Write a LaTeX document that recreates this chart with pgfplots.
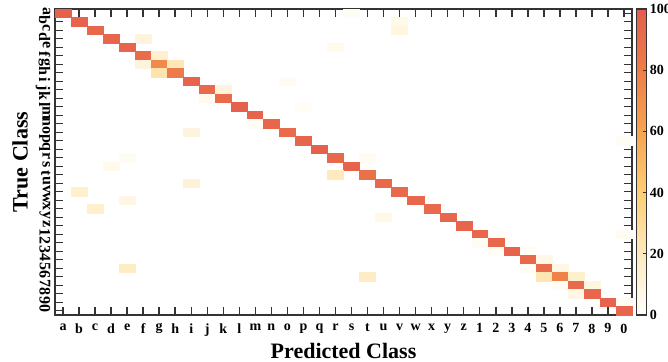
\documentclass[border=0pt]{standalone}
\usepackage{pgfplots}
\pgfplotsset{compat=1.18}
\usepackage{pgfplotstable}
\usepackage{fontspec}
\setmainfont{Liberation Serif}
\usetikzlibrary{calc}

\pgfplotstableread{
x y v
0 0 97
18 0 3
1 1 96
21 1 6
2 2 93
21 2 9
3 3 94
5 3 10
4 4 95
17 4 5
5 5 90
6 5 14
5 6 10
6 6 74
7 6 22
6 7 25
7 7 82
8 8 96
14 8 4
9 9 92
10 9 10
9 10 5
10 10 91
11 11 97
15 11 2
12 12 95
13 12 1
12 13 3
13 13 94
8 14 10
14 14 91
15 15 95
35 15 3
16 16 97
4 17 3
17 17 93
19 17 4
3 18 5
18 18 96
17 19 20
19 19 88
8 20 13
20 20 93
1 21 15
21 21 92
4 22 8
22 22 94
2 23 15
23 23 92
20 24 7
24 24 94
25 25 95
26 26 94
27 26 2
35 26 3
26 27 3
27 27 93
27 28 2
28 28 96
29 28 3
29 29 93
30 29 7
4 30 18
29 30 3
30 30 90
31 30 8
19 31 18
30 31 23
31 31 78
32 31 15
31 32 3
32 32 92
33 32 9
32 33 8
33 33 94
34 34 96
35 34 3
35 35 95
}\cmdata

\begin{document}
\begin{tikzpicture}
\begin{axis}[
  name=main,
  scale only axis,
  width=432.75pt, height=229.5pt,
  xmin=-0.5, xmax=35.5, ymin=-0.5, ymax=35.5,
  y dir=reverse,
  axis on top,
  xtick={0,...,35}, ytick={0,...,35},
  xticklabels={a,b,c,d,e,f,g,h,i,j,k,l,m,n,o,p,q,r,s,t,u,v,w,x,y,z,1,2,3,4,5,6,7,8,9,0},
  yticklabels={a,b,c,d,e,f,g,h,i,j,k,l,m,n,o,p,q,r,s,t,u,v,w,x,y,z,1,2,3,4,5,6,7,8,9,0},
  tick align=inside,
  major tick length=6pt,
  every tick/.style={black!80, line width=1.1pt},
  axis line style={black!80, line width=1.4pt},
  xticklabel style={font=\bfseries\fontsize{10.5}{12}\selectfont, yshift=-3pt},
  yticklabel style={font=\bfseries\fontsize{12}{13}\selectfont, rotate=-90, anchor=north, xshift=-1.5pt},
  xlabel={Predicted Class}, ylabel={True Class},
  label style={font=\bfseries\fontsize{16.5}{18}\selectfont},
  xlabel style={yshift=2pt},
  ylabel style={yshift=-1pt},
  colormap={cm}{rgb255=(255,255,252) rgb255=(254,234,190) rgb255=(253,206,118) rgb255=(246,164,80) rgb255=(238,126,72) rgb255=(229,92,78)},
  point meta min=0, point meta max=100,
  colorbar,
  colorbar style={
    at={(parent axis.north east)}, anchor=north west, xshift=-5.25pt,
    scale only axis, width=7.5pt, height=229.5pt,
    ytick={0,20,...,100},
    tick align=inside, ytick pos=right,
    major tick length=2.5pt,
    every tick/.style={black!80, line width=1pt},
    axis line style={black!80, line width=1pt},
    yticklabel style={font=\bfseries\fontsize{10.5}{12}\selectfont, /pgf/number format/assume math mode=true, xshift=-1pt},
  },
]
\addplot[scatter, only marks, mark=square*, mark size=3.1875pt,
  mark options={xscale=1.8856},
  point meta=explicit,
  scatter/use mapped color={draw=mapped color, fill=mapped color, line width=0.2pt}]
  table[x=x, y=y, meta=v] {\cmdata};
\end{axis}
\pgfresetboundingbox
\useasboundingbox ($(main.south west)+(-41.25pt,-35.25pt)$) rectangle ($(main.north east)+(27pt,6.75pt)$);
\end{tikzpicture}
\end{document}
